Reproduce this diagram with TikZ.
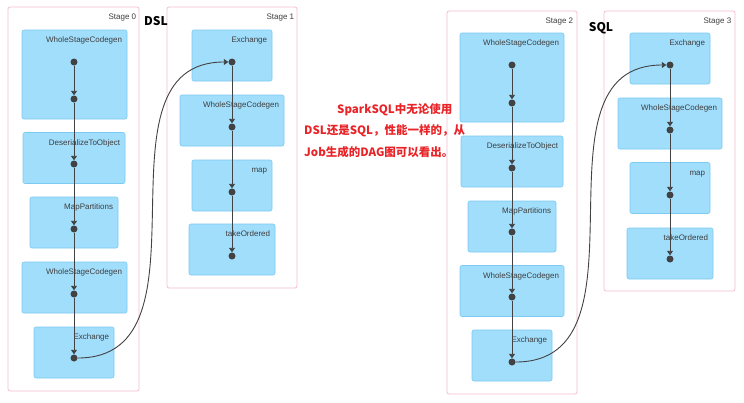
\documentclass[tikz,border=0pt]{standalone}
\usepackage{fontspec}
\setmainfont{Liberation Sans}
\newfontfamily\cjk{Noto Sans CJK SC}
\usetikzlibrary{positioning,arrows.meta}
\definecolor{opfill}{RGB}{161,222,252}
\definecolor{opline}{RGB}{122,202,242}
\definecolor{stageline}{RGB}{245,190,206}
\definecolor{dotgray}{RGB}{66,66,66}
\definecolor{txtgray}{RGB}{62,62,62}
\definecolor{notered}{RGB}{232,36,40}

\begin{document}
\begin{tikzpicture}[x=1pt,y=-1pt]
  \tikzset{ stage/.style={draw=stageline,fill=white,rounded corners=2pt,line width=0.8pt,inner sep=0pt},
    op/.style={draw=opline,fill=opfill,rounded corners=2pt,line width=0.6pt,inner sep=0pt,minimum height=51pt},
    lbl/.style={txtgray,font=\fontsize{8}{9}\selectfont,inner sep=0pt,text height=6pt,text depth=2pt},
    p/.style={circle,fill=dotgray,inner sep=0pt,minimum size=7pt},
    flow/.style={dotgray,line width=0.9pt,-{Triangle[length=4.5pt,width=6pt]}},
    title/.style={font=\cjk\bfseries\fontsize{12}{14}\selectfont},
  }
  \useasboundingbox (0,0) rectangle (744,402);

  % DSL job
  \node[stage,minimum width=131pt,minimum height=384pt] (st0) at (73.5,199) {};
  \node[stage,minimum width=130pt,minimum height=281pt] (st1) at (232,147.5) {};
  \node[lbl,below left=7pt and 3pt of st0.north east] (st0l) {Stage 0};
  \node[lbl,below left=7pt and 3pt of st1.north east] (st1l) {Stage 1};
  \node[title] (dsl) at (156,21) {DSL};

  \node[op,minimum width=105pt,minimum height=89pt] (wsc0) at (74.5,74.5) {};
  \node[op,minimum width=102pt] (des0) at (74,158) {};
  \node[op,minimum width=88pt]  (mpt0) at (74,222.5) {};
  \node[op,minimum width=105pt] (wsc0b) at (74.5,287.5) {};
  \node[op,minimum width=80pt]  (exc0) at (74,352.5) {};
  \node[lbl,below left=7pt and 5pt of wsc0.north east]  (wsc0l)  {WholeStageCodegen};
  \node[lbl,below left=7pt and 5pt of des0.north east]  (des0l)  {DeserializeToObject};
  \node[lbl,below left=7pt and 5pt of mpt0.north east]  (mpt0l)  {MapPartitions};
  \node[lbl,below left=7pt and 5pt of wsc0b.north east] (wsc0bl) {WholeStageCodegen};
  \node[lbl,below left=7pt and 5pt of exc0.north east]  (exc0l)  {Exchange};

  \node[op,minimum width=80pt]  (exc1) at (232,55.5) {};
  \node[op,minimum width=104pt] (wsc1) at (232,120.5) {};
  \node[op,minimum width=80pt]  (map1) at (232,185.5) {};
  \node[op,minimum width=86pt]  (tko1) at (232,249.5) {};
  \node[lbl,below left=7pt and 5pt of exc1.north east] (exc1l) {Exchange};
  \node[lbl,below left=7pt and 5pt of wsc1.north east] (wsc1l) {WholeStageCodegen};
  \node[lbl,below left=7pt and 5pt of map1.north east] (map1l) {map};
  \node[lbl,below left=7pt and 5pt of tko1.north east] (tko1l) {takeOrdered};

  \node[p] (p01) at (74,62) {};
  \node[p] (p02) at (74,99) {};
  \node[p] (p03) at (74,164) {};
  \node[p] (p04) at (74,229) {};
  \node[p] (p05) at (74,294) {};
  \node[p] (p06) at (74,358) {};
  \node[p] (p11) at (232,62) {};
  \node[p] (p12) at (232,127) {};
  \node[p] (p13) at (232,192) {};
  \node[p] (p14) at (232,256) {};

  % the edges of the DSL job
  \draw[flow] (p01) -- (p02);
  \draw[flow] (p02) -- (p03);
  \draw[flow] (p03) -- (p04);
  \draw[flow] (p04) -- (p05);
  \draw[flow] (p05) -- (p06);
  \draw[flow] (p06) to[out=0,in=180,looseness=1.1] (p11);
  \draw[flow] (p11) -- (p12);
  \draw[flow] (p12) -- (p13);
  \draw[flow] (p13) -- (p14);

  % SQL job
  \node[stage,minimum width=130pt,minimum height=383pt] (st2) at (512,202.5) {};
  \node[stage,minimum width=131pt,minimum height=280pt] (st3) at (669.5,151) {};
  \node[lbl,below left=7pt and 4pt of st2.north east] (st2l) {Stage 2};
  \node[lbl,below left=7pt and 4pt of st3.north east] (st3l) {Stage 3};
  \node[title] (sql) at (601,28) {SQL};

  \node[op,minimum width=104pt,minimum height=89pt] (wsc2) at (512,77.5) {};
  \node[op,minimum width=102pt] (des2) at (512,161.5) {};
  \node[op,minimum width=88pt]  (mpt2) at (512,226.5) {};
  \node[op,minimum width=104pt] (wsc2b) at (512,291) {};
  \node[op,minimum width=80pt]  (exc2) at (512,355.5) {};
  \node[lbl,below left=7pt and 5pt of wsc2.north east]  (wsc2l)  {WholeStageCodegen};
  \node[lbl,below left=7pt and 5pt of des2.north east]  (des2l)  {DeserializeToObject};
  \node[lbl,below left=7pt and 5pt of mpt2.north east]  (mpt2l)  {MapPartitions};
  \node[lbl,below left=7pt and 5pt of wsc2b.north east] (wsc2bl) {WholeStageCodegen};
  \node[lbl,below left=7pt and 5pt of exc2.north east]  (exc2l)  {Exchange};

  \node[op,minimum width=80pt]  (exc3) at (670,58.5) {};
  \node[op,minimum width=104pt] (wsc3) at (670,123.5) {};
  \node[op,minimum width=80pt]  (map3) at (670,188) {};
  \node[op,minimum width=86pt]  (tko3) at (670,253.5) {};
  \node[lbl,below left=7pt and 5pt of exc3.north east] (exc3l) {Exchange};
  \node[lbl,below left=7pt and 5pt of wsc3.north east] (wsc3l) {WholeStageCodegen};
  \node[lbl,below left=7pt and 5pt of map3.north east] (map3l) {map};
  \node[lbl,below left=7pt and 5pt of tko3.north east] (tko3l) {takeOrdered};

  \node[p] (p21) at (512,65) {};
  \node[p] (p22) at (512,103) {};
  \node[p] (p23) at (512,168) {};
  \node[p] (p24) at (512,232) {};
  \node[p] (p25) at (512,297) {};
  \node[p] (p26) at (512,362) {};
  \node[p] (p31) at (670,65) {};
  \node[p] (p32) at (670,130) {};
  \node[p] (p33) at (670,195) {};
  \node[p] (p34) at (670,259) {};

  % the edges of the SQL job
  \draw[flow] (p21) -- (p22);
  \draw[flow] (p22) -- (p23);
  \draw[flow] (p23) -- (p24);
  \draw[flow] (p24) -- (p25);
  \draw[flow] (p25) -- (p26);
  \draw[flow] (p26) to[out=0,in=180,looseness=1.1] (p31);
  \draw[flow] (p31) -- (p32);
  \draw[flow] (p32) -- (p33);
  \draw[flow] (p33) -- (p34);

  % the note in between
  \node[notered,anchor=north west,align=left,inner sep=0pt,
    font=\cjk\bfseries\fontsize{11.5}{21.5}\selectfont] (note) at (304,103)
    {\hspace*{33pt}SparkSQL中无论使用\\DSL还是SQL，性能一样的，从\\Job生成的DAG图可以看出。};
\end{tikzpicture}
\end{document}
